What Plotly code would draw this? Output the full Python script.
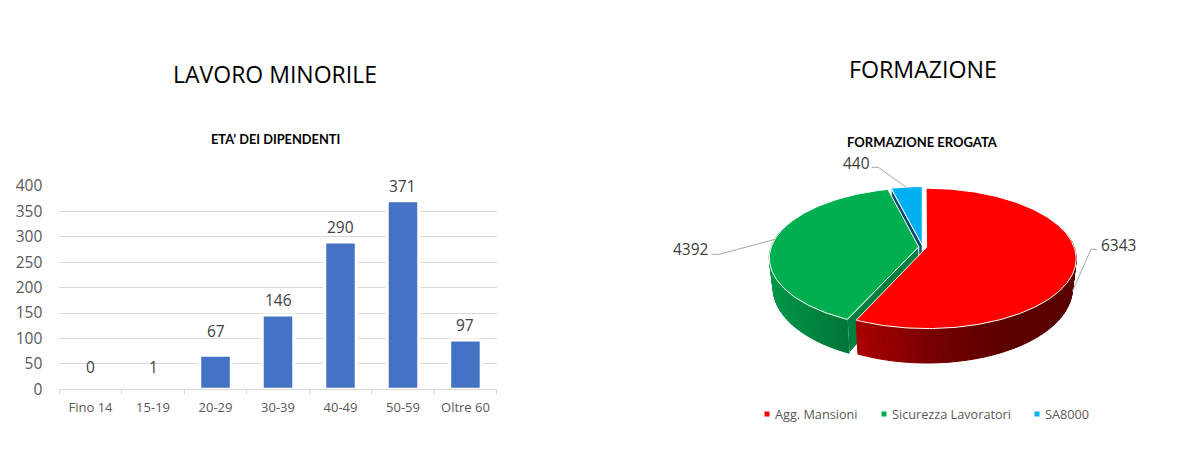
import math
import plotly.graph_objects as go

# ---- data ----
age_groups = ["Fino 14", "15-19", "20-29", "30-39", "40-49", "50-59", "Oltre 60"]
employees = [0, 1, 67, 146, 290, 371, 97]
label_lift = [22, 22, 24, 15, 15, 15, 15]

training_names = ["Agg. Mansioni", "Sicurezza Lavoratori", "SA8000"]
training_hours = [6343, 4392, 440]
top_colors = ["#FF0000", "#00B050", "#00B0F0"]

W, H = 1180, 470
GRAY_TXT = "#595959"
DARK_TXT = "#404040"
FONT = "Open Sans"
HEAD = "Lato"

# ---- projection of the tilted 3D pie (pie-axes units are pixels) ----
CX, CY = 922.7, 247.0
R, RY, PERSP = 147.5, 68.3, 0.157
DEPTH, SHRINK = 29.0, 0.975
EXPLODE = 0.027


def proj(u, v, depth=0.0):
    s = 1 / (1 + PERSP * v)
    k = SHRINK if depth else 1.0
    return CX + R * u * s * k, CY - RY * v * s + depth * s


total = sum(training_hours)
angles = [0.0]
for val in training_hours:
    angles.append(angles[-1] + 360 * val / total)


def slice_point(idx, theta_deg, radius=1.0, depth=0.0):
    mid = math.radians((angles[idx] + angles[idx + 1]) / 2)
    t = math.radians(theta_deg)
    u = radius * math.sin(t) + EXPLODE * math.sin(mid)
    v = radius * math.cos(t) + EXPLODE * math.cos(mid)
    return proj(u, v, depth)


def arc(a, b, step=1.0):
    n = max(2, int(abs(b - a) / step))
    return [a + (b - a) * i / n for i in range(n + 1)]


def lerp_color(stops, x):
    if x <= stops[0][0]:
        return stops[0][1]
    for (x0, c0), (x1, c1) in zip(stops, stops[1:]):
        if x <= x1:
            f = (x - x0) / (x1 - x0)
            rgb = [round(c0[i] + (c1[i] - c0[i]) * f) for i in range(3)]
            return rgb
    return stops[-1][1]


def poly(fig, pts, fill, line=None, width=1):
    xs = [p[0] for p in pts] + [pts[0][0]]
    ys = [p[1] for p in pts] + [pts[0][1]]
    fig.add_trace(go.Scatter(x=xs, y=ys, xaxis="x2", yaxis="y2", mode="lines", fill="toself",
                             fillcolor=fill, line=dict(color=line or fill, width=width),
                             hoverinfo="skip", showlegend=False))


def wall(fig, idx, a, b, stops):
    th = arc(a, b, 1.5)
    for t0, t1 in zip(th, th[1:]):
        p0, p1 = slice_point(idx, t0), slice_point(idx, t1)
        q0, q1 = slice_point(idx, t0, depth=DEPTH), slice_point(idx, t1, depth=DEPTH)
        c = lerp_color(stops, (p0[0] + p1[0]) / 2)
        col = f"rgb({c[0]},{c[1]},{c[2]})"
        poly(fig, [p0, p1, q1, q0], col, col, 1)


def top(fig, idx):
    pts = [slice_point(idx, angles[idx], 0.0)] + [slice_point(idx, t) for t in arc(angles[idx], angles[idx + 1])]
    poly(fig, pts, top_colors[idx], "#FFFFFF", 1)


def cut_face(fig, idx, theta, fill):
    a0 = slice_point(idx, theta, 0.0)
    r0 = slice_point(idx, theta)
    a1 = slice_point(idx, theta, 0.0, DEPTH)
    r1 = slice_point(idx, theta, 1.0, DEPTH)
    poly(fig, [a0, r0, r1, a1], fill, "#FFFFFF", 1)


fig = go.Figure()

# ---- bar chart ----
fig.add_trace(go.Bar(x=age_groups, y=employees, width=0.504, marker=dict(color="#4472C4", line=dict(color="#FFFFFF", width=3)),
                     showlegend=False, hovertemplate="%{x}: %{y}<extra></extra>"))

annotations = [
    dict(x=c, y=v, xref="x", yref="y", text=str(v), showarrow=False, yshift=lift, yanchor="middle",
         font=dict(family=FONT, size=15.5, color=DARK_TXT))
    for c, v, lift in zip(age_groups, employees, label_lift)
]

# ---- 3D pie, back to front ----
cut_face(fig, 2, angles[2], "#0B4A70")
top(fig, 2)
cut_face(fig, 1, angles[1], "#007F3F")
wall(fig, 1, angles[1], 290, [(770, [0, 150, 70]), (845, [0, 118, 56])])
top(fig, 1)
wall(fig, 0, 70, angles[1], [(857, [170, 0, 0]), (930, [120, 0, 0]), (1000, [92, 0, 0]), (1080, [88, 0, 0])])
top(fig, 0)

# leader lines
leaders = [
    ([1096.7, 1091, 1072.3], [249.3, 249.3, 291.7]),
    ([711.7, 719.3, 775], [254.3, 254.3, 239.3]),
    ([871.7, 878.3, 906.7], [167.3, 167.3, 187.7]),
]
for lx, ly in leaders:
    fig.add_trace(go.Scatter(x=lx, y=ly, xaxis="x2", yaxis="y2", mode="lines",
                             line=dict(color="#A6A6A6", width=1), hoverinfo="skip", showlegend=False))

label_pos = [(1118, 245), (691, 249), (856, 163)]
for val, (lx, ly) in zip(training_hours, label_pos):
    annotations.append(dict(x=lx, y=ly, xref="x2", yref="y2", text=str(val), showarrow=False,
                            xanchor="center", yanchor="middle",
                            font=dict(family=FONT, size=15.5, color=DARK_TXT)))

# legend
legend_x = [767, 884, 1037]
fig.add_trace(go.Scatter(x=legend_x, y=[414] * 3, xaxis="x2", yaxis="y2", mode="markers",
                         marker=dict(symbol="square", size=5, color=top_colors), hoverinfo="skip", showlegend=False))
for name, lx in zip(training_names, legend_x):
    annotations.append(dict(x=lx + 6, y=414, xref="x2", yref="y2", text=name, showarrow=False, xanchor="left",
                            yanchor="middle", font=dict(family=FONT, size=12.7, color=GRAY_TXT)))

# titles
for text, px, py, size, fam, bold in [
    ("LAVORO MINORILE", 274.5, 74, 23, FONT, False),
    ("FORMAZIONE", 922.5, 69, 23.2, FONT, False),
    ("ETA’ DEI DIPENDENTI", 275.5, 139.5, 12.8, HEAD, True),
    ("FORMAZIONE EROGATA", 922, 142, 13, HEAD, True),
]:
    annotations.append(dict(x=px / W, y=1 - py / H, xref="paper", yref="paper", showarrow=False,
                            xanchor="center", yanchor="middle",
                            text=f"<b>{text}</b>" if bold else text,
                            font=dict(family=fam, size=size, color="#000000")))

fig.update_layout(
    width=W, height=H, margin=dict(l=0, r=0, t=0, b=0), paper_bgcolor="white", plot_bgcolor="white",
    showlegend=False, annotations=annotations, bargap=0.5,
    xaxis=dict(domain=[59.3 / W, 496.7 / W], type="category", tickson="boundaries", ticks="outside", ticklen=4,
               tickcolor="#D9D9D9", showline=True, linecolor="#D9D9D9", linewidth=1, showgrid=False, automargin=False,
               ticklabelstandoff=6, tickfont=dict(family=FONT, size=13, color=GRAY_TXT), fixedrange=True),
    yaxis=dict(domain=[1 - 389.3 / H, 1 - 186 / H], range=[0, 400], tickvals=list(range(0, 401, 50)), automargin=False,
               gridcolor="#D9D9D9", gridwidth=1, zeroline=False, ticklabelstandoff=16,
               tickfont=dict(family=FONT, size=15.5, color=GRAY_TXT), fixedrange=True),
    xaxis2=dict(domain=[0.5, 1], range=[W / 2, W], anchor="y2", visible=False, fixedrange=True, automargin=False),
    yaxis2=dict(domain=[0, 1], range=[H, 0], anchor="x2", visible=False, fixedrange=True, automargin=False),
)

fig.write_html("out.html", config=dict(displayModeBar=False), post_script="document.body.style.margin='0';")
